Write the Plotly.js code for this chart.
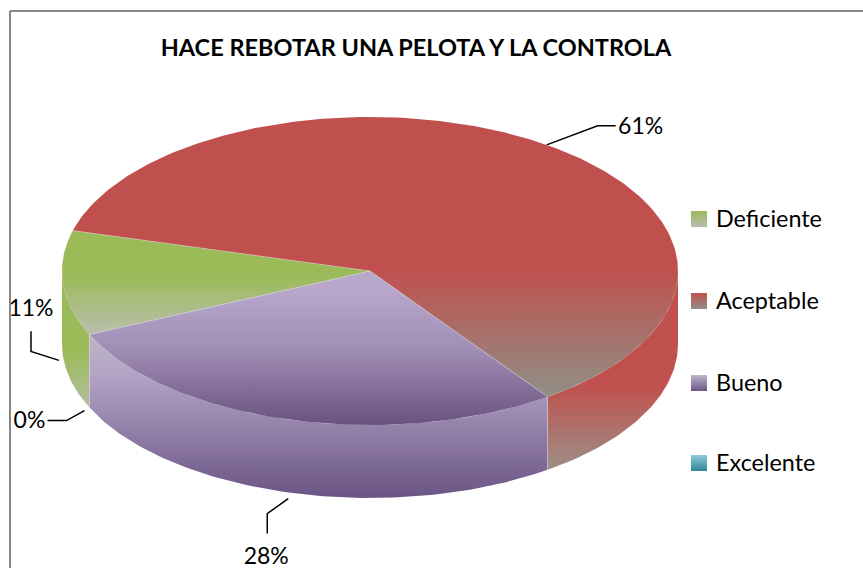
<!DOCTYPE html>
<html>
<head>
<meta charset="utf-8">
<script src="https://cdn.plot.ly/plotly-3.0.1.min.js"></script>
<style>
  html, body { margin: 0; padding: 0; background: #fff; overflow: hidden; }
  #chart { width: 863px; height: 568px; }
</style>
</head>
<body>
<div id="chart"></div>
<script>
const chart_title = "HACE REBOTAR UNA PELOTA Y LA CONTROLA";
const categories = ["Deficiente", "Aceptable", "Bueno", "Excelente"];
const percents = [11, 61, 28, 0];

// Plotly pies are flat only, so the tilted pie is built from filled scatter traces.
const cx = 370, cy = 271, rx = 308, ry = 154, depth = 73;
const start_deg = 155.6;  // screen angle of the first slice, clockwise

// [y stop, colour] pairs, one list per slice
const top_colors = [
  [[117, "#9BBB59"], [275, "#9BBB59"], [334, "#B8BFAC"]],
  [[117, "#C0504D"], [268, "#C0504D"], [398, "#8F9087"]],
  [[290, "#B8A7CB"], [350, "#A08DB5"], [425, "#69527F"]],
  [[290, "#4BACC6"], [425, "#31859C"]],
];
const wall_colors = [
  [[280, "#9BBB59"], [352, "#9BBB59"], [410, "#B4BDA3"]],
  [[300, "#C0504D"], [385, "#C0504D"], [470, "#9C9088"]],
  [[334, "#BDB8C5"], [375, "#B3A3C6"], [497, "#6B5585"]],
  [[290, "#4BACC6"], [425, "#31859C"]],
];
const swatch_top = ["#9BBB59", "#C0504D", "#BFB8CB", "#8FCBD9"];
const swatch_bottom = ["#B9BDB0", "#8F9087", "#6B5585", "#31859C"];
const legend_y = [219, 301, 383, 463];

// leader line bends and label spot, relative to the point on the rim
const leader_bends = [
  [[-4, 4], [-32, -5], [-32, -25]],
  [[0, 0], [51, -19], [69, -19]],
  [[-1, 6], [-22, 21], [-22, 41]],
  [[-5, 3], [-23, 13], [-42, 13]],
];
const label_offsets = [[-32, -46], [94, -17], [-23, 66], [-60, 15]];

function rim(deg, drop) {
  const t = deg * Math.PI / 180;
  return [cx + rx * Math.cos(t), cy + ry * Math.sin(t) + drop];
}

function arc(from, to, drop) {
  const pts = [];
  const n = Math.max(2, Math.ceil(Math.abs(to - from)));
  for (let i = 0; i <= n; ++i) pts.push(rim(from + (to - from) * i / n, drop));
  return pts;
}

function gradient(stops) {
  const lo = stops[0][0], hi = stops[stops.length - 1][0];
  return {
    type: "vertical",
    start: lo,
    stop: hi,
    colorscale: stops.map(s => [(s[0] - lo) / (hi - lo), s[1]]),
  };
}

function polygon(name, pts, stops) {
  return {
    type: "scatter",
    mode: "lines",
    name: name,
    x: pts.map(p => p[0]),
    y: pts.map(p => p[1]),
    fill: "toself",
    fillgradient: gradient(stops),
    line: { width: 0 },
    hoverinfo: "name",
    showlegend: false,
  };
}

const spans = [];
let angle = start_deg;
for (const pct of percents) {
  spans.push([angle, angle + pct * 3.6]);
  angle += pct * 3.6;
}

const walls = [];
const tops = [];
const seams = { x: [], y: [] };

spans.forEach((span, i) => {
  if (percents[i] == 0) return;
  tops.push(polygon(categories[i], [[cx, cy], ...arc(span[0], span[1], 0)], top_colors[i]));

  // only the front half of the rim (sin > 0) shows a wall
  for (const k of [0, 360]) {
    const from = Math.max(span[0] - k, 0), to = Math.min(span[1] - k, 180);
    if (to <= from) continue;
    walls.push(polygon(categories[i],
        [...arc(from, to, 0), ...arc(to, from, depth)], wall_colors[i]));
  }

  const a = rim(span[0], 0), b = rim(span[0], depth);
  seams.x.push(cx, a[0], null);
  seams.y.push(cy, a[1], null);
  if (Math.sin(span[0] * Math.PI / 180) > 0) {
    seams.x.push(a[0], b[0], null);
    seams.y.push(a[1], b[1], null);
  }
});

const leaders = { x: [], y: [] };
const label_x = [], label_y = [], label_text = [];
spans.forEach((span, i) => {
  const mid = (span[0] + span[1]) / 2;
  const front = Math.sin(mid * Math.PI / 180) > 0;
  const anchor = rim(mid, front ? depth : 0);
  for (const bend of leader_bends[i]) {
    leaders.x.push(anchor[0] + bend[0]);
    leaders.y.push(anchor[1] + bend[1]);
  }
  leaders.x.push(null);
  leaders.y.push(null);
  label_x.push(anchor[0] + label_offsets[i][0]);
  label_y.push(anchor[1] + label_offsets[i][1]);
  label_text.push(percents[i] + "%");
});

const font_name = "Lato, 'Open Sans', sans-serif";

const traces = [
  ...walls,
  ...tops,
  {
    type: "scatter", mode: "lines",
    x: seams.x, y: seams.y,
    line: { color: "rgba(225,225,225,0.4)", width: 1 },
    hoverinfo: "skip", showlegend: false,
  },
  {
    type: "scatter", mode: "lines",
    x: leaders.x, y: leaders.y,
    line: { color: "#000", width: 1.5 },
    hoverinfo: "skip", showlegend: false,
  },
  {
    type: "scatter", mode: "text",
    x: label_x, y: label_y, text: label_text,
    textposition: "middle center",
    textfont: { family: font_name, size: 23, color: "#000" },
    hoverinfo: "skip", showlegend: false,
  },
  // hand made legend, a native one can't space or size its keys like this
  {
    type: "scatter", mode: "markers",
    x: categories.map(() => 699), y: legend_y,
    marker: {
      symbol: "square", size: 16, color: swatch_top,
      line: { width: 0 },
      gradient: { type: "vertical", color: swatch_bottom },
    },
    hoverinfo: "skip", showlegend: false,
  },
  {
    type: "scatter", mode: "text",
    x: categories.map(() => 716), y: legend_y.map(v => v + 2), text: categories,
    textposition: "middle right",
    textfont: { family: font_name, size: 23.4, color: "#000" },
    hoverinfo: "skip", showlegend: false,
  },
];

const hidden_axis = { visible: false, fixedrange: true, showgrid: false, zeroline: false };

const layout = {
  width: 863,
  height: 568,
  margin: { l: 0, r: 0, t: 0, b: 0 },
  paper_bgcolor: "#fff",
  plot_bgcolor: "#fff",
  showlegend: false,
  title: {
    text: "<b>" + chart_title + "</b>",
    font: { family: font_name, size: 23.5, color: "#000" },
    x: 416 / 863,
    xanchor: "center",
    y: 1 - 48 / 568,
    yanchor: "middle",
  },
  xaxis: Object.assign({ range: [0, 863] }, hidden_axis),
  yaxis: Object.assign({ range: [568, 0] }, hidden_axis),
  shapes: [
    { type: "line", x0: 10, x1: 10, y0: 11, y1: 568, line: { color: "#868686", width: 2 } },
    { type: "line", x0: 10, x1: 863, y0: 11, y1: 11, line: { color: "#868686", width: 2 } },
  ],
};

Plotly.newPlot("chart", traces, layout, { displayModeBar: false });
</script>
</body>
</html>
